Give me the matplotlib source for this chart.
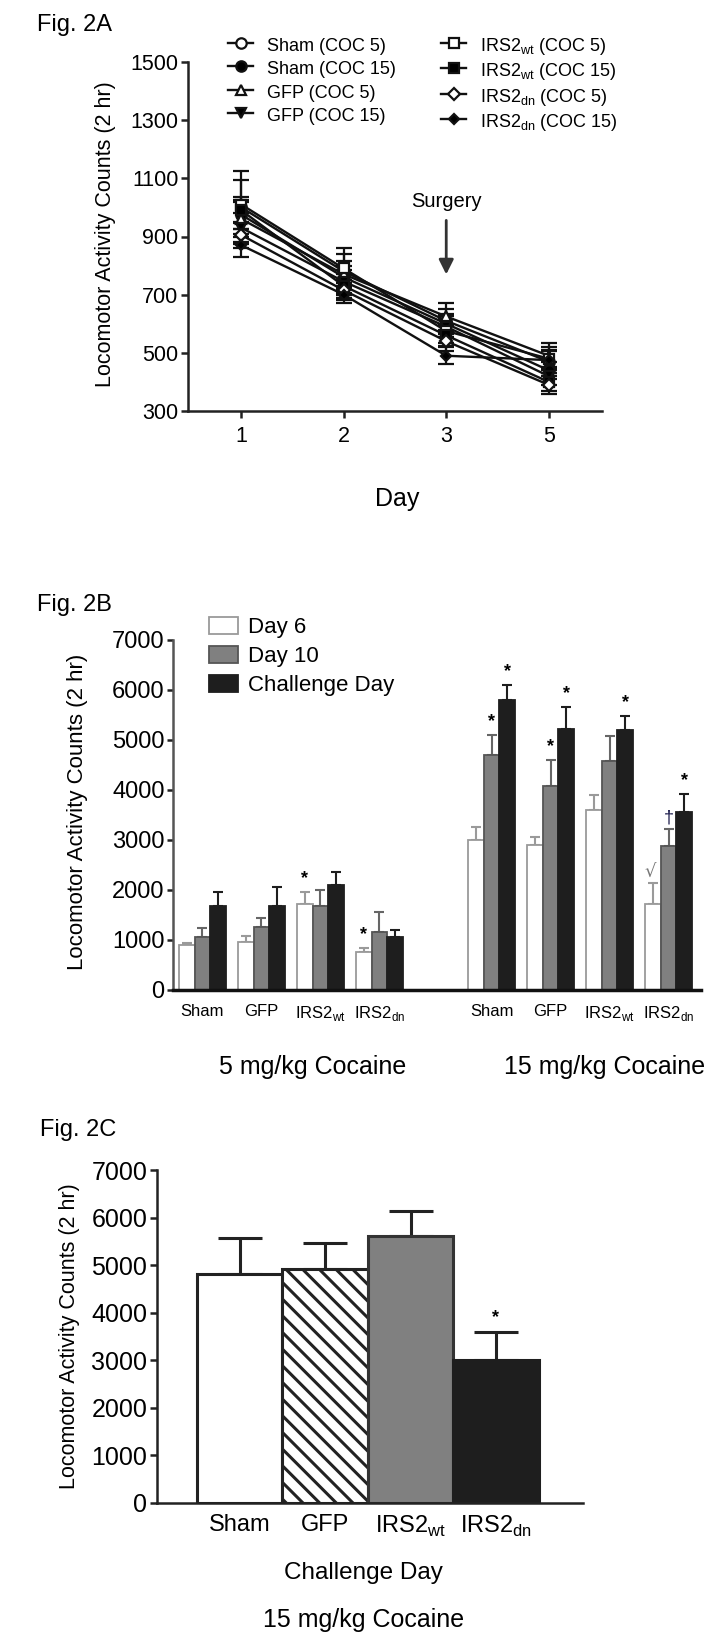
import numpy as np
import matplotlib
matplotlib.use('Agg')
import matplotlib.pyplot as plt

# ---------------- datos ----------------
# Fig. 2A: actividad locomotora por día (media y error)
dias = ['1', '2', '3', '5']
etiquetas_a = ['Sham (COC 5)', 'Sham (COC 15)', 'GFP (COC 5)', 'GFP (COC 15)',
               r'IRS2$_{\mathregular{wt}}$ (COC 5)', r'IRS2$_{\mathregular{wt}}$ (COC 15)',
               r'IRS2$_{\mathregular{dn}}$ (COC 5)', r'IRS2$_{\mathregular{dn}}$ (COC 15)']
sham5 = [1000, 780, 610, 470]
sham15 = [975, 760, 600, 440]
gfp5 = [960, 770, 625, 490]
gfp15 = [930, 745, 590, 420]
wt5 = [1010, 790, 575, 480]
wt15 = [990, 730, 560, 400]
dn5 = [905, 715, 540, 390]
dn15 = [870, 700, 490, 475]
sham5_err = [125, 80, 40, 40]
sham15_err = [50, 40, 35, 30]
gfp5_err = [60, 45, 45, 45]
gfp15_err = [50, 40, 35, 30]
wt5_err = [85, 50, 40, 40]
wt15_err = [45, 40, 35, 30]
dn5_err = [45, 35, 35, 30]
dn15_err = [40, 30, 30, 30]

# Fig. 2B: barras por grupo (5 y 15 mg/kg)
grupos_b = ['Sham', 'GFP', r'IRS2$_{\mathregular{wt}}$', r'IRS2$_{\mathregular{dn}}$',
            'Sham', 'GFP', r'IRS2$_{\mathregular{wt}}$', r'IRS2$_{\mathregular{dn}}$']
series_b = ['Day 6', 'Day 10', 'Challenge Day']
dia6 = [900, 970, 1730, 760, 3000, 2900, 3600, 1720]
dia6_err = [50, 110, 235, 80, 265, 165, 300, 425]
dia10 = [1070, 1260, 1680, 1170, 4700, 4080, 4580, 2880]
dia10_err = [165, 175, 320, 400, 400, 520, 500, 340]
desafio = [1690, 1690, 2110, 1070, 5800, 5230, 5200, 3570]
desafio_err = [280, 380, 255, 130, 300, 430, 290, 360]
# (grupo, serie, símbolo)
signos_b = [(2, 0, '*'), (3, 0, '*'), (4, 1, '*'), (4, 2, '*'), (5, 1, '*'),
            (5, 2, '*'), (6, 2, '*'), (7, 2, '*'), (7, 0, '√'), (7, 1, '†')]

# Fig. 2C: día de desafío, 15 mg/kg
grupos_c = ['Sham', 'GFP', r'IRS2$_{\mathregular{wt}}$', r'IRS2$_{\mathregular{dn}}$']
valores_c = [4820, 4910, 5620, 3000]
errores_c = [750, 560, 525, 600]
signos_c = ['', '', '', '*']

# ---------------- estilo ----------------
plt.rcParams['font.family'] = ['Liberation Sans', 'DejaVu Sans']
plt.rcParams['hatch.linewidth'] = 2.2

W, H = 716, 1646
fig = plt.figure(figsize=(W / 100, H / 100), dpi=100)


def fx(x):
    return x / W


def fy(y):
    return 1 - y / H


def caja(izq, der, arriba, abajo):
    return [fx(izq), fy(abajo), (der - izq) / W, (abajo - arriba) / H]


def ejes_simples(ax, lw=1.5, color='#222222'):
    for s in ['top', 'right']:
        ax.spines[s].set_visible(False)
    for s in ['left', 'bottom']:
        ax.spines[s].set_linewidth(lw)
        ax.spines[s].set_color(color)
    ax.tick_params(width=lw, color=color, length=5)


# ================= Fig. 2A =================
axa = fig.add_axes(caja(188, 602, 62, 411))
x = np.arange(len(dias))
series_a = [sham5, sham15, gfp5, gfp15, wt5, wt15, dn5, dn15]
errs_a = [sham5_err, sham15_err, gfp5_err, gfp15_err, wt5_err, wt15_err, dn5_err, dn15_err]
marcadores = ['o', 'o', '^', 'v', 's', 's', 'D', 'D']
rellenos = ['white', 'black', 'white', 'black', 'white', 'black', 'white', 'black']
tamanos = [7.5, 7.5, 7.5, 7.5, 7.5, 7.5, 6.5, 5.5]
manejadores = []
for vals, err, m, fc, ms in zip(series_a, errs_a, marcadores, rellenos, tamanos):
    cont = axa.errorbar(x, vals, yerr=err, color='#111111', marker=m, mfc=fc, mec='#111111',
                        ms=ms, lw=1.7, elinewidth=1.6, capsize=6, capthick=1.6, mew=1.6)
    manejadores.append(cont.lines[0])

axa.set_xlim(-0.52, 3.52)
axa.set_ylim(300, 1500)
axa.set_yticks(range(300, 1501, 200))
axa.set_xticks(x)
axa.set_xticklabels(dias)
ejes_simples(axa, lw=1.8)
axa.tick_params(axis='both', labelsize=15.5)
axa.tick_params(axis='x', pad=6)
axa.tick_params(axis='y', pad=2)

opciones_ley = dict(loc='upper left', bbox_transform=fig.transFigure, frameon=False,
                    borderpad=0, borderaxespad=0, handlelength=1.4, handleheight=1.3,
                    handletextpad=0.75, labelspacing=0.2, fontsize=13)
ley1 = axa.legend(manejadores[:4], etiquetas_a[:4], bbox_to_anchor=(fx(228), fy(35)),
                  **opciones_ley)
axa.add_artist(ley1)
axa.legend(manejadores[4:], etiquetas_a[4:], bbox_to_anchor=(fx(441), fy(35)), **opciones_ley)

axa.annotate('', xy=(2, 760), xytext=(2, 965),
             arrowprops=dict(arrowstyle='-|>', color='#333333', lw=2, mutation_scale=22))
axa.text(2, 1022, 'Surgery', ha='center', va='center', fontsize=14.5)

fig.text(fx(397), fy(499), 'Day', ha='center', va='center', fontsize=18)
fig.text(fx(106), fy(234), 'Locomotor Activity Counts (2 hr)', rotation=90,
         ha='center', va='center', fontsize=15.5)
fig.text(fx(37), fy(25), 'Fig. 2A', ha='left', va='center', fontsize=17)

# ================= Fig. 2B =================
axb = fig.add_axes(caja(173, 701, 640, 990))
pos = np.array([0, 1, 2, 3, 4.9, 5.9, 6.9, 7.9])
ancho = 0.263
valores_b = [dia6, dia10, desafio]
errores_b = [dia6_err, dia10_err, desafio_err]
colores = ['white', '#808080', '#1e1e1e']
bordes = ['#9a9a9a', '#555555', '#1e1e1e']
colores_err = ['#9a9a9a', '#666666', '#1e1e1e']
for i, (vals, err) in enumerate(zip(valores_b, errores_b)):
    xs = pos + (i - 1) * ancho
    axb.bar(xs, vals, width=ancho, color=colores[i], edgecolor=bordes[i], lw=1.3,
            label=series_b[i], zorder=2)
    axb.errorbar(xs, vals, yerr=[np.zeros(len(vals)), err], fmt='none',
                 ecolor=colores_err[i], elinewidth=1.5, capsize=3.5, capthick=1.5, zorder=1)

for g, s, simb in signos_b:
    xs = pos[g] + (s - 1) * ancho
    tope = valores_b[s][g] + errores_b[s][g]
    if simb == '*':
        axb.text(xs, tope + 90, simb, ha='center', va='bottom', fontsize=13, fontweight='bold')
    elif simb == '†':
        axb.text(xs, tope + 60, simb, ha='center', va='bottom', fontsize=13, color='#1a1a4a')
    else:
        axb.text(xs - 0.05, tope + 40, simb, ha='center', va='bottom', fontsize=13,
                 color='#777777', family='DejaVu Sans')

axb.set_xlim(-0.5, 8.45)
axb.set_ylim(0, 7000)
axb.set_yticks(range(0, 7001, 1000))
axb.set_xticks(pos)
axb.set_xticklabels(grupos_b, fontsize=12)
ejes_simples(axb, lw=1.8)
axb.spines['left'].set_color('#555555')
axb.spines['bottom'].set_linewidth(2.5)
axb.spines['bottom'].set_color('#111111')
axb.tick_params(axis='x', length=0, pad=10)
axb.tick_params(axis='y', labelsize=17, pad=2, length=4)

axb.legend(loc='upper left', bbox_to_anchor=(fx(209), fy(617)), bbox_transform=fig.transFigure,
           frameon=False, borderpad=0, borderaxespad=0, handlelength=1.3, handleheight=0.77,
           handletextpad=0.45, labelspacing=0.36, fontsize=16)

fig.text(fx(313), fy(1067), '5 mg/kg Cocaine', ha='center', va='center', fontsize=18)
fig.text(fx(605), fy(1067), '15 mg/kg Cocaine', ha='center', va='center', fontsize=18)
fig.text(fx(78), fy(812), 'Locomotor Activity Counts (2 hr)', rotation=90,
         ha='center', va='center', fontsize=16)
fig.text(fx(37), fy(605), 'Fig. 2B', ha='left', va='center', fontsize=17)

# ================= Fig. 2C =================
axc = fig.add_axes(caja(157, 583, 1170, 1503))
xc = np.arange(len(grupos_c))
colores_c = ['white', 'white', '#808080', '#1e1e1e']
bordes_c = ['#222222', '#222222', '#333333', '#1e1e1e']
tramas = ['', '\\\\', '', '']
for xi, v, fc, ec, h in zip(xc, valores_c, colores_c, bordes_c, tramas):
    axc.bar(xi, v, width=1.0, color=fc, edgecolor=ec, hatch=h, lw=2.2, zorder=2)
axc.errorbar(xc, valores_c, yerr=[np.zeros(len(xc)), errores_c], fmt='none',
             ecolor='#222222', elinewidth=2.2, capsize=16, capthick=2.2, zorder=1)
for xi, v, e, s in zip(xc, valores_c, errores_c, signos_c):
    if s:
        axc.text(xi, v + e + 120, s, ha='center', va='bottom', fontsize=13, fontweight='bold')

axc.set_xlim(-0.97, 4.02)
axc.set_ylim(0, 7000)
axc.set_yticks(range(0, 7001, 1000))
axc.set_xticks(xc)
axc.set_xticklabels(grupos_c, fontsize=17)
ejes_simples(axc, lw=1.8)
axc.tick_params(axis='x', length=0, pad=8)
axc.tick_params(axis='y', labelsize=18, pad=2, length=5)

fig.text(fx(363), fy(1573), 'Challenge Day', ha='center', va='center', fontsize=17.5)
fig.text(fx(364), fy(1620), '15 mg/kg Cocaine', ha='center', va='center', fontsize=18)
fig.text(fx(70), fy(1336), 'Locomotor Activity Counts (2 hr)', rotation=90,
         ha='center', va='center', fontsize=15.5)
fig.text(fx(40), fy(1130), 'Fig. 2C', ha='left', va='center', fontsize=17)

fig.savefig('out.png', dpi=100)
